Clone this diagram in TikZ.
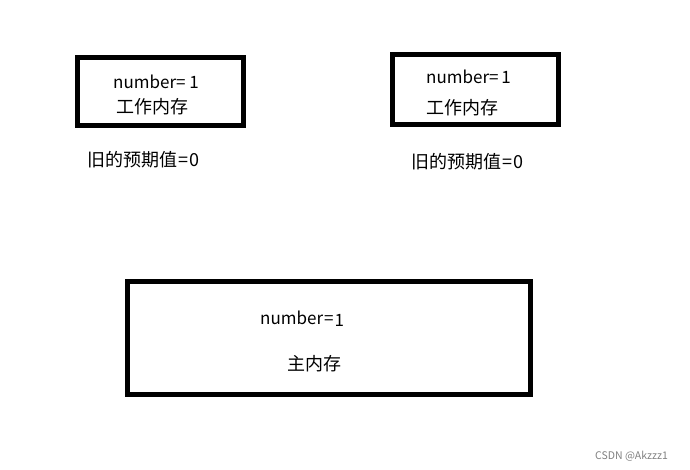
\documentclass[tikz,border=0pt]{standalone}
\usepackage{fontspec}
\setmainfont{Noto Sans CJK SC}
\usepackage{tikz}

\begin{document}
\begin{tikzpicture}[x=1pt, y=-1pt,
    membox/.style={draw, line width=5pt, inner sep=0pt},
    txt/.style={anchor=west, inner sep=0pt, font=\fontsize{17}{20}\selectfont},
    cjk/.style={txt, font=\fontsize{18}{21}\selectfont},
    wmark/.style={anchor=west, inner sep=0pt, font=\fontsize{10.5}{12}\selectfont, text=gray}]
  \useasboundingbox (0,0) rectangle (690,470);
  % working memory, left thread
  \node[membox, minimum width=166pt, minimum height=68pt] (work1) at (160,91.5) {};
  \node[txt] (num1) at (113,82) {number=\ 1};
  \node[cjk] (wname1) at (116,107) {工作内存};
  \node[cjk] (old1) at (87,160) {旧的预期值\kern1pt=\kern1pt0};
  % working memory, right thread
  \node[membox, minimum width=166pt, minimum height=70pt] (work2) at (475,90) {};
  \node[txt] (num2) at (426,77) {number=\,1};
  \node[cjk] (wname2) at (426,108) {工作内存};
  \node[cjk] (old2) at (411,162) {旧的预期值\kern1pt=\kern1pt0};
  % main memory
  \node[membox, minimum width=403pt, minimum height=113pt] (main) at (328.5,337.5) {};
  \node[txt] (num3) at (260,319) {number\kern1pt=\kern1pt\raisebox{-2pt}{1}};
  \node[cjk] (mname) at (287,364) {主内存};
  \node[wmark] (wm) at (595,456) {CSDN @Akzzz1};
\end{tikzpicture}
\end{document}
